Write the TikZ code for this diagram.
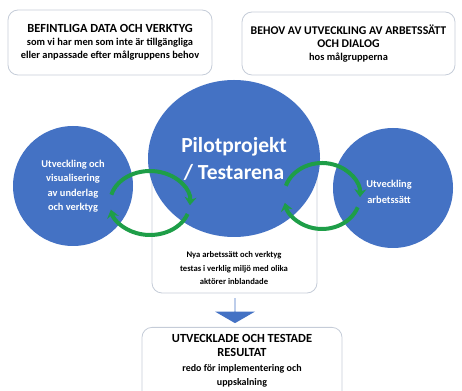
\documentclass[tikz,border=0pt]{standalone}
\usepackage{fontspec}
\setmainfont{Carlito}
\usepackage{tikz}
\usetikzlibrary{shapes.geometric,shapes.arrows,arrows.meta,fit}
\definecolor{ringblue}{HTML}{4472C4}
\definecolor{boxline}{HTML}{C5CCD8}
\definecolor{loopgreen}{HTML}{1E9E48}

\begin{document}
\begin{tikzpicture}[x=1pt, y=1pt]

\tikzstyle{box} = [rectangle, rounded corners=10pt, draw=boxline, line width=0.8pt, align=center, font=\bfseries\fontsize{12.4}{13}\selectfont]
\tikzstyle{ring} = [circle, fill=ringblue, minimum size=120pt, inner sep=0pt, text=white, align=center, font=\bfseries\fontsize{10.4}{14.5}\selectfont]
\tikzstyle{loop} = [loopgreen, line width=4pt, -{Stealth[length=8pt, width=12pt]}]
\newcommand{\sub}{\fontsize{10.4}{13}\selectfont}

\useasboundingbox (0,0) rectangle (462,390);

% top boxes
\node[box, minimum width=204pt, minimum height=65pt] (b) at (110,347.5) {BEFINTLIGA DATA OCH VERKTYG\\ {\sub som vi har men som inte är tillgängliga}\\ {\sub eller anpassade efter målgruppens behov}};
\node[box, minimum width=213pt, minimum height=63pt, font=\bfseries\fontsize{11.8}{13}\selectfont] (h) at (348.5,346.5) {BEHOV AV UTVECKLING AV ARBETSSÄTT\\ OCH DIALOG\\ {\sub hos målgrupperna}};

% test box behind the big circle
\node[align=center, font=\bfseries\fontsize{8.6}{13.5}\selectfont] (t) at (234,121.5) {Nya arbetssätt och verktyg\\ testas i verklig miljö med olika\\ aktörer inblandade};
\node[box, fit={(152,230) (317,97)}, inner sep=0pt] (m) {};

% circles
\node[ellipse, fill=ringblue, minimum width=172pt, minimum height=157pt, inner sep=0pt, text=white, align=center, font=\bfseries\fontsize{21.5}{27}\selectfont] (p) at (234,231.5) {Pilotprojekt\\ / Testarena};
\node[ring] (l) at (73,204) {Utveckling och\\ visualisering\\ av underlag\\ och verktyg};
\node[ring] (r) at (393,202) {};
\node[text=white, align=center, font=\bfseries\fontsize{10.4}{16}\selectfont] (rt) at (389,198.5) {Utveckling\\ arbetssätt};

% green loops
\coordinate (lv) at (150,187);
\coordinate (lh) at (322,194);
\draw[loop] ([shift={(165:40 and 32)}]lv) arc[start angle=165, end angle=-4, x radius=40, y radius=32];
\draw[loop] ([shift={(-20:40 and 32)}]lv) arc[start angle=-20, end angle=-168, x radius=40, y radius=32];
\draw[loop] ([shift={(162:38 and 33)}]lh) arc[start angle=162, end angle=-2, x radius=38, y radius=33];
\draw[loop] ([shift={(-20:38 and 33)}]lh) arc[start angle=-20, end angle=-168, x radius=38, y radius=33];

% result
\node[single arrow, fill=ringblue, shape border rotate=270, minimum height=25pt, minimum width=40pt, single arrow head extend=8pt, single arrow tip angle=120, inner sep=0pt] (a) at (235,79.5) {};
\node[box, minimum width=200pt, minimum height=78pt, anchor=north] (u) at (242,63) {};
\node[align=center, font=\bfseries\fontsize{12.4}{14.5}\selectfont] (ut) at (242,29) {UTVECKLADE OCH TESTADE\\ RESULTAT\\ {\fontsize{10}{14.5}\selectfont redo för implementering och}\\ {\fontsize{10}{14.5}\selectfont uppskalning}};

\end{tikzpicture}
\end{document}
